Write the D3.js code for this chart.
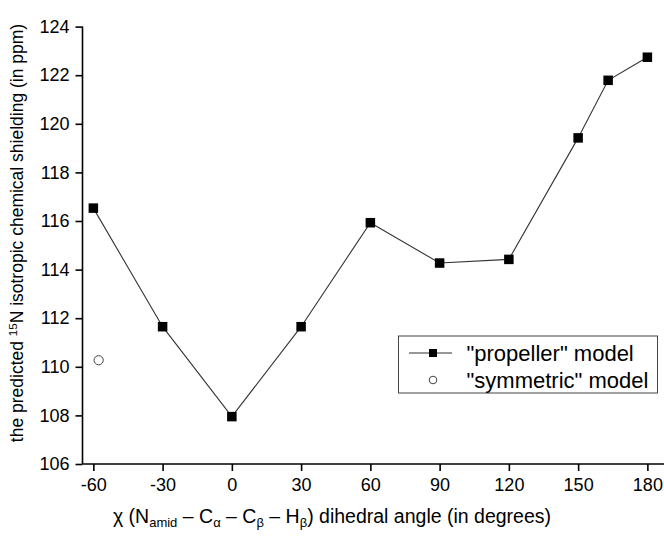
<!DOCTYPE html>
<html><head><meta charset="utf-8">
<script src="https://cdn.jsdelivr.net/npm/d3@7"></script>
<style>body{margin:0;background:#fff}svg{display:block}text{font-family:"Liberation Sans",Arial,sans-serif;fill:#000}</style>
</head><body><svg id="c" width="664" height="538"></svg>
<script>
const propellerX = [-60, -30, 0, 30, 60, 90, 120, 150, 163, 180];
const propellerY = [116.53, 111.65, 107.95, 111.65, 115.93, 114.27, 114.42, 119.42, 121.79, 122.74];
const symmetricX = [-57.7];
const symmetricY = [110.27];
const xTicks = [-60, -30, 0, 30, 60, 90, 120, 150, 180];
const yTicks = [106, 108, 110, 112, 114, 116, 118, 120, 122, 124];
const legendLabels = ['"propeller" model', '"symmetric" model'];

const svg = d3.select("#c");
const x = d3.scaleLinear().domain([-64.7, 187.2]).range([82.5, 664]);
const y = d3.scaleLinear().domain([106, 124]).range([464, 26.6]);

const xa = svg.append("g").attr("transform", "translate(0,464)")
  .call(d3.axisBottom(x).tickValues(xTicks).tickSize(7).tickPadding(7).tickFormat(d => String(d)));
const ya = svg.append("g").attr("transform", "translate(82.5,0)")
  .call(d3.axisLeft(y).tickValues(yTicks).tickSize(7).tickPadding(6).tickFormat(d => String(d)));
[xa, ya].forEach(a => {
  a.select(".domain").attr("stroke", "#000").attr("stroke-width", 1.6);
  a.selectAll(".tick line").attr("stroke", "#000").attr("stroke-width", 1.6);
  a.selectAll(".tick text").style("font-size", "18px").attr("fill", "#000");
});
xa.select(".domain").attr("d", `M${x.range()[0]},0H${x.range()[1]}`);
ya.select(".domain").attr("d", `M0,${y.range()[0]}V${y.range()[1]}`);

const pts = propellerX.map((v, i) => [v, propellerY[i]]);
svg.append("path").datum(pts)
  .attr("fill", "none").attr("stroke", "#333").attr("stroke-width", 1.1)
  .attr("d", d3.line().x(d => x(d[0])).y(d => y(d[1])));
const s = 9.5;
svg.selectAll("rect.pt").data(pts).join("rect").attr("class", "pt")
  .attr("x", d => x(d[0]) - s / 2).attr("y", d => y(d[1]) - s / 2)
  .attr("width", s).attr("height", s).attr("fill", "#000");
svg.selectAll("circle.sym").data(symmetricX.map((v, i) => [v, symmetricY[i]])).join("circle")
  .attr("class", "sym").attr("cx", d => x(d[0])).attr("cy", d => y(d[1])).attr("r", 4.6)
  .attr("fill", "#fff").attr("stroke", "#444").attr("stroke-width", 1);

// legend
const lg = svg.append("g");
lg.append("rect").attr("x", 398.5).attr("y", 336).attr("width", 259).attr("height", 57)
  .attr("fill", "#fff").attr("stroke", "#444").attr("stroke-width", 1);
lg.append("line").attr("x1", 409).attr("x2", 452).attr("y1", 353).attr("y2", 353)
  .attr("stroke", "#333").attr("stroke-width", 1.1);
lg.append("rect").attr("x", 433 - 4).attr("y", 353 - 4).attr("width", 8).attr("height", 8).attr("fill", "#000");
lg.append("circle").attr("cx", 433).attr("cy", 380).attr("r", 3.8).attr("fill", "#fff").attr("stroke", "#444");
lg.selectAll("text").data(legendLabels).join("text")
  .attr("x", 466.5).attr("y", (d, i) => 353 + i * 27).attr("dy", "0.36em")
  .style("font-size", "22px").text(d => d);

// x title
const xt = svg.append("text").attr("x", 332).attr("y", 523).attr("text-anchor", "middle").style("font-size", "19.5px");
xt.append("tspan").text("χ (N");
xt.append("tspan").attr("dy", 4).style("font-size", "13px").text("amid");
xt.append("tspan").attr("dy", -4).text(" – C");
xt.append("tspan").attr("dy", 4).style("font-size", "13px").text("α");
xt.append("tspan").attr("dy", -4).text(" – C");
xt.append("tspan").attr("dy", 4).style("font-size", "13px").text("β");
xt.append("tspan").attr("dy", -4).text(" – H");
xt.append("tspan").attr("dy", 4).style("font-size", "13px").text("β");
xt.append("tspan").attr("dy", -4).text(") dihedral angle (in degrees)");

// y title
const yt = svg.append("text").attr("transform", "translate(23,233) rotate(-90)")
  .attr("text-anchor", "middle").style("font-size", "17.5px");
yt.append("tspan").text("the predicted ");
yt.append("tspan").attr("dy", -6).style("font-size", "11.5px").text("15");
yt.append("tspan").attr("dy", 6).text("N isotropic chemical shielding (in ppm)");
</script></body></html>
